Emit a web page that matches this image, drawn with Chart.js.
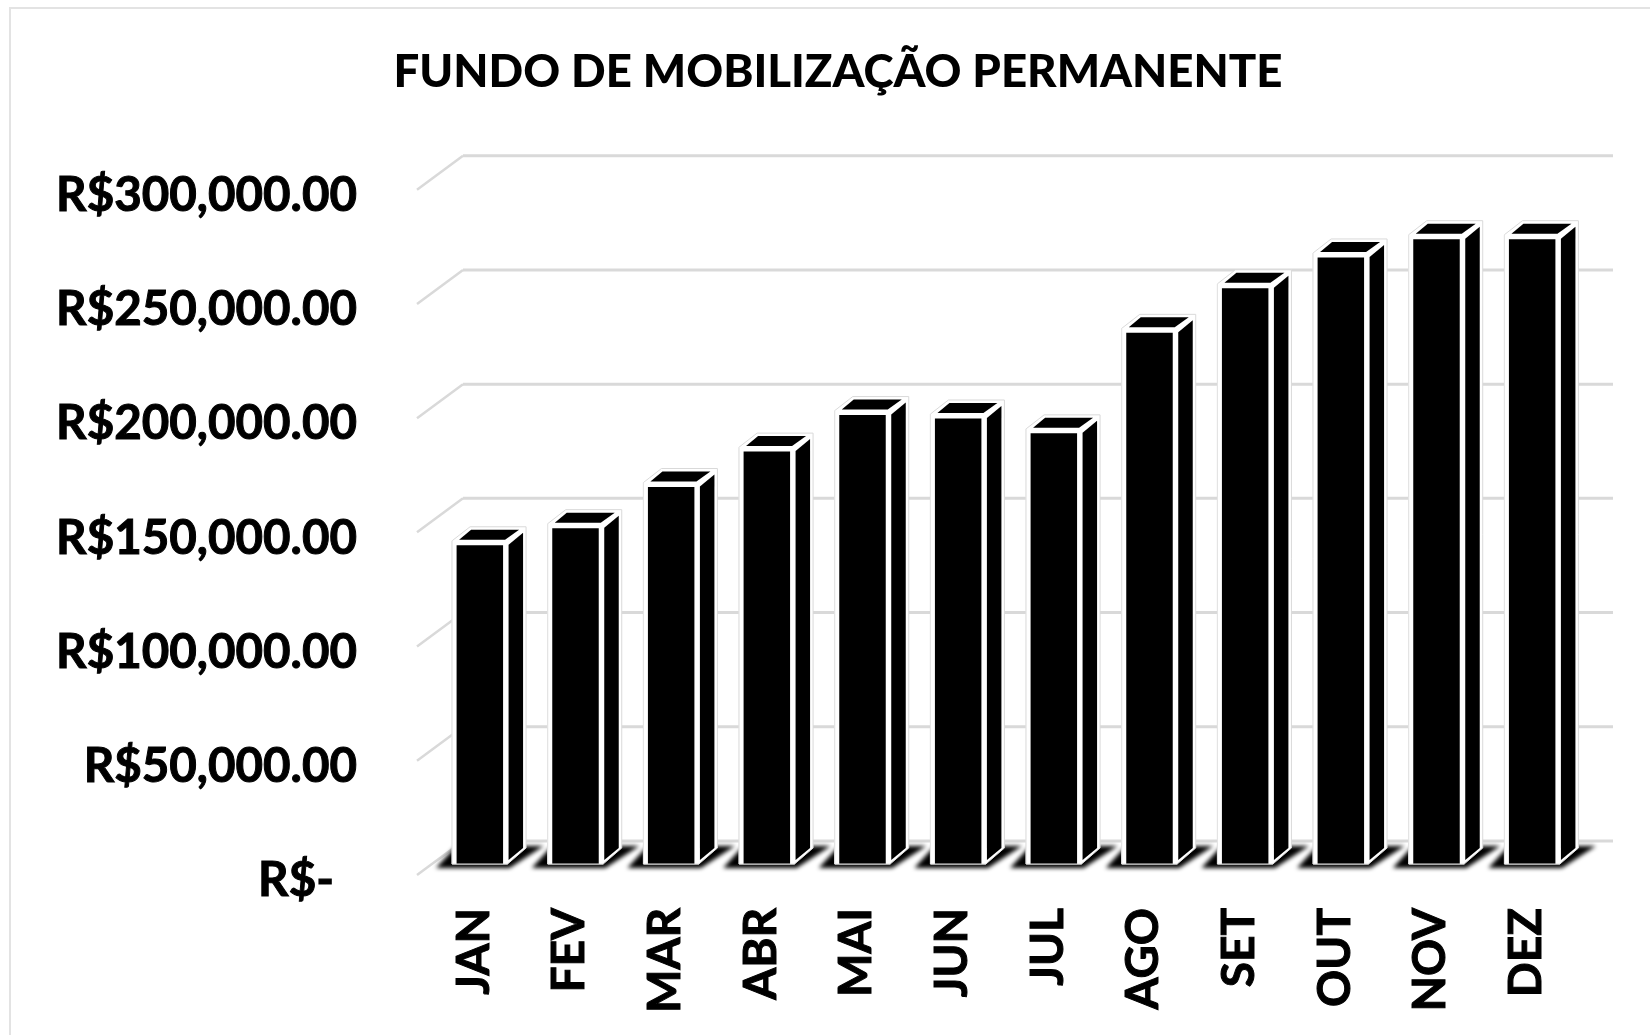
<!DOCTYPE html>
<html>
<head>
<meta charset="utf-8">
<title>Fundo de Mobilização Permanente</title>
<script src="https://cdn.jsdelivr.net/npm/chart.js@4"></script>
<style>
  html, body { margin: 0; padding: 0; background: #fff; }
  canvas { display: block; }
</style>
</head>
<body>
<canvas id="chart" width="1650" height="1035"></canvas>
<script>
const months = ['JAN', 'FEV', 'MAR', 'ABR', 'MAI', 'JUN', 'JUL', 'AGO', 'SET', 'OUT', 'NOV', 'DEZ'];
const fundValues = [141500, 149000, 167000, 182500, 198500, 197000, 190500, 234500, 254000, 267500, 275500, 275500];
const yTickLabels = ['R$-\u00a0\u00a0', 'R$50,000.00', 'R$100,000.00', 'R$150,000.00', 'R$200,000.00', 'R$250,000.00', 'R$300,000.00'];

const GRID = '#d9d9d9';
// 3D offsets from the bar plane, px
const BACK = { x: 31, y: -23 };
const FRONT = { x: -15, y: 11 };

const path = (ctx, pts) => {
  ctx.beginPath();
  pts.forEach(([x, y], i) => (i ? ctx.lineTo(x, y) : ctx.moveTo(x, y)));
  ctx.closePath();
};

const box3d = {
  id: 'box3d',
  // the y labels are wider than the scale box, stop them being clipped
  afterLayout(chart) {
    chart.scales.y.left = 0;
  },
  beforeDraw(chart) {
    const { ctx, chartArea, scales: { y } } = chart;
    ctx.save();
    ctx.strokeStyle = '#e3e3e3';
    ctx.lineWidth = 2;
    ctx.strokeRect(10, 8, 1700, 1100);

    // walls: back lines plus the diagonal going to the front edge
    ctx.strokeStyle = GRID;
    y.ticks.forEach((t) => {
      const py = y.getPixelForValue(t.value);
      const left = chartArea.left;
      ctx.lineWidth = 3;
      ctx.beginPath();
      ctx.moveTo(left + BACK.x, py + BACK.y);
      ctx.lineTo(chartArea.right + BACK.x + 2, py + BACK.y);
      ctx.stroke();
      ctx.lineWidth = 2.5;
      ctx.beginPath();
      ctx.moveTo(left + FRONT.x, py + FRONT.y);
      ctx.lineTo(left + BACK.x, py + BACK.y);
      ctx.stroke();
    });
    ctx.restore();
  },
  beforeDatasetsDraw(chart) {
    const { ctx } = chart;
    const bars = chart.getDatasetMeta(0).data;
    ctx.save();
    // floor shadow
    ctx.filter = 'blur(2px)';
    ctx.fillStyle = '#000';
    bars.forEach((b) => {
      const l = b.x - b.width / 2;
      const r = b.x + b.width / 2;
      path(ctx, [[l - 16, b.base + 4], [r + 2, b.base + 4], [r + 36, b.base - 18], [l + 4, b.base - 18]]);
      ctx.fill();
    });
    ctx.filter = 'none';

    bars.forEach((b) => {
      const l = b.x - b.width / 2;
      const r = b.x + b.width / 2;
      const t = b.y;
      const base = b.base;
      // outline of the whole box
      path(ctx, [[l, base], [l, t], [l + 18, t - 14], [r + 18.5, t - 14], [r + 18.5, base - 16], [r, base]]);
      ctx.fillStyle = '#fff';
      ctx.fill();
      ctx.strokeStyle = '#d9d9d9';
      ctx.lineWidth = 1;
      ctx.lineJoin = 'round';
      ctx.stroke();
      // side face
      path(ctx, [[r + 1, t + 4], [r + 15.5, t - 8], [r + 15.5, base - 16], [r + 1, base - 4]]);
      ctx.fillStyle = '#000';
      ctx.fill();
      // top face
      path(ctx, [[l + 7, t - 1], [l + 19, t - 11], [r + 11.5, t - 11], [r - 2.5, t - 1]]);
      ctx.fill();
    });
    ctx.restore();
  },
  afterDatasetsDraw(chart) {
    const { ctx } = chart;
    ctx.save();
    ctx.strokeStyle = '#e4e4e4';
    ctx.lineWidth = 1;
    chart.getDatasetMeta(0).data.forEach((b) => {
      ctx.beginPath();
      ctx.moveTo(b.x - b.width / 2, b.y);
      ctx.lineTo(b.x - b.width / 2, b.base);
      ctx.lineTo(b.x + b.width / 2, b.base);
      ctx.stroke();
    });
    ctx.restore();
  },
};

new Chart(document.getElementById('chart'), {
  type: 'bar',
  data: {
    labels: months,
    datasets: [{
      data: fundValues,
      backgroundColor: '#000',
      borderColor: '#fff',
      borderWidth: 4.5,
      categoryPercentage: 1,
      barPercentage: 0.58,
    }],
  },
  plugins: [box3d],
  options: {
    responsive: false,
    animation: false,
    events: [],
    layout: { padding: { left: 96, right: 70, top: 0, bottom: 0 } },
    plugins: {
      legend: { display: false },
      tooltip: { enabled: false },
      title: {
        display: true,
        text: 'FUNDO DE MOBILIZAÇÃO PERMANENTE',
        color: '#000',
        font: { family: 'Lato', weight: 900, size: 45.6 },
        padding: { top: 45, bottom: 79 },
      },
    },
    scales: {
      x: {
        afterFit: (scale) => { scale.height = 171; },
        grid: { display: false },
        border: { display: false },
        ticks: {
          color: '#000',
          font: { family: 'Lato', weight: 'bold', size: 46 },
          textStrokeColor: '#000',
          textStrokeWidth: 1,
          minRotation: 90,
          maxRotation: 90,
          padding: 36,
          labelOffset: -6,
          autoSkip: false,
        },
      },
      y: {
        min: 0,
        max: 300000,
        afterFit: (scale) => { scale.width = 336; },
        grid: { display: false },
        border: { display: false },
        ticks: {
          stepSize: 50000,
          color: '#000',
          font: { family: 'Lato', weight: 'bold', size: 47.5 },
          textStrokeColor: '#000',
          textStrokeWidth: 1,
          padding: 67,
          labelOffset: 17,
          callback: (v) => yTickLabels[v / 50000],
        },
      },
    },
  },
});
</script>
</body>
</html>
